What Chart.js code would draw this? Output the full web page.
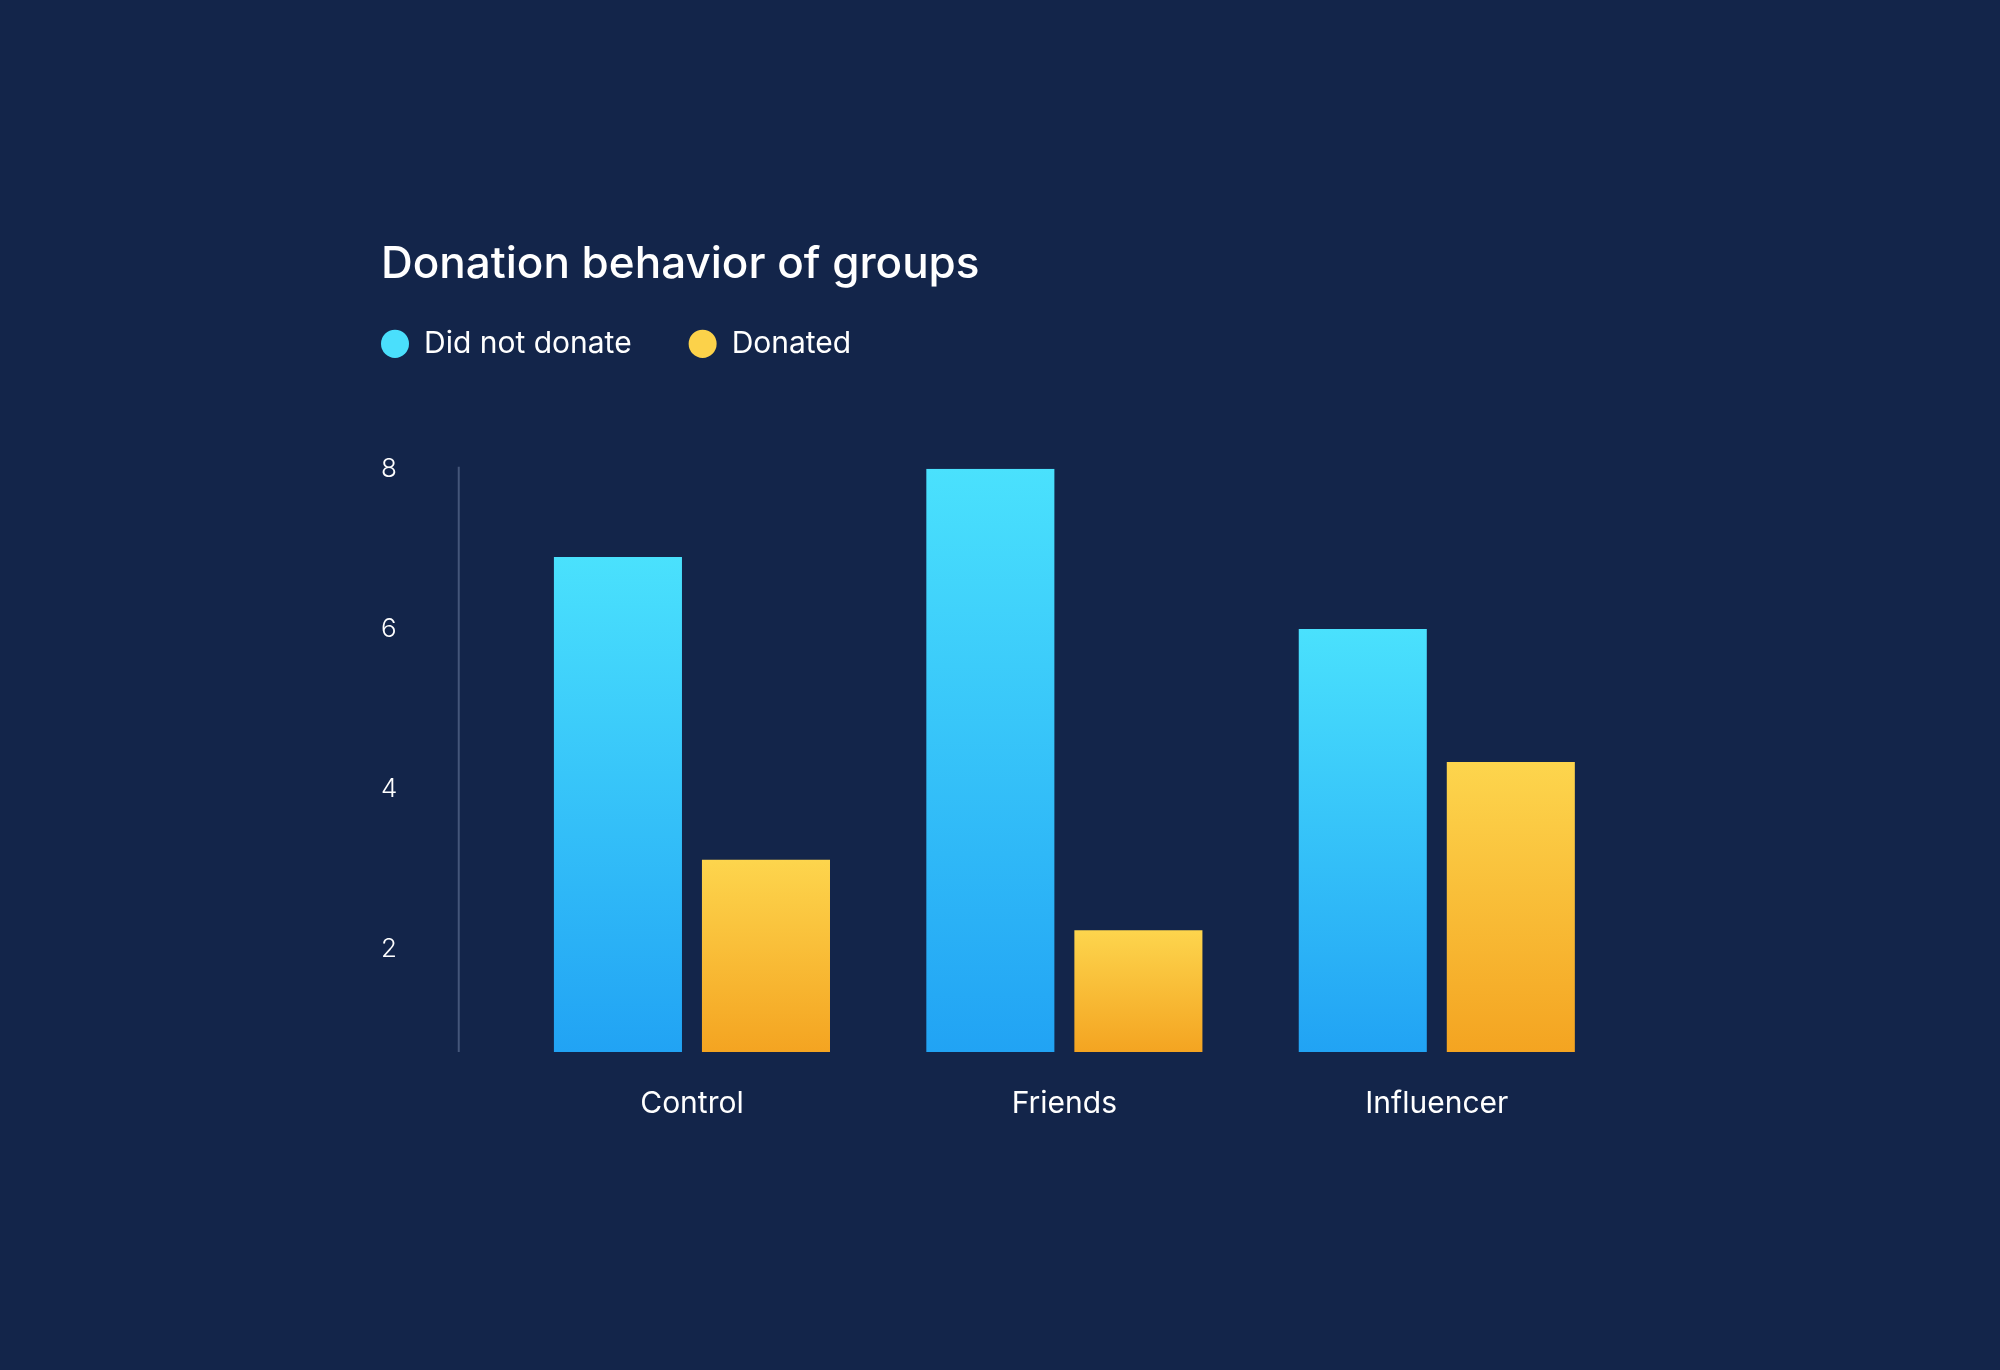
<!DOCTYPE html>
<html>
<head>
<meta charset="utf-8">
<style>
  html, body { margin: 0; padding: 0; background: #13254a; }
  #wrap { width: 2000px; height: 1370px; position: relative; }
</style>
<script src="https://cdn.jsdelivr.net/npm/chart.js@4/dist/chart.umd.min.js"></script>
</head>
<body>
<div id="wrap"><canvas id="c" width="2000" height="1370"></canvas></div>
<script>
const titleText = 'Donation behavior of groups';
const categories = ['Control', 'Friends', 'Influencer'];
const seriesNames = ['Did not donate', 'Donated'];
const didNotDonate = [6.9, 8.0, 6.0];
const donated = [3.12, 2.24, 4.34];
const yTickValues = [2, 4, 6, 8];
const yMin = 0.72;
const yMax = 8;

const BG = '#13254a';
const blueTop = '#4ae1fd', blueBottom = '#21a3f4';
const yellowTop = '#fdd54d', yellowBottom = '#f4a421';
const legendColors = ['#4adffc', '#fcd24a'];
const FONT = 'Inter, Lato, sans-serif';
const LEGEND_EXTRA = 43;

function gradient(top, bottom) {
  return (ctx) => {
    const chart = ctx.chart;
    const area = chart.chartArea;
    if (!area || ctx.raw === undefined) return top;
    const y0 = chart.scales.y.getPixelForValue(ctx.raw);
    const y1 = chart.scales.y.getPixelForValue(yMin);
    const g = chart.ctx.createLinearGradient(0, y0, 0, y1);
    g.addColorStop(0, top);
    g.addColorStop(1, bottom);
    return g;
  };
}

const bgPlugin = {
  id: 'bg',
  beforeDraw(chart) {
    const c = chart.ctx;
    c.save();
    c.fillStyle = BG;
    c.fillRect(0, 0, chart.width, chart.height);
    c.restore();
  }
};

const legendSpacingPlugin = {
  id: 'legendSpacing',
  beforeLayout(chart) {
    const lg = chart.legend;
    if (lg && !lg.__patched) {
      const orig = lg.fit.bind(lg);
      lg.fit = function () { orig(); this.height += LEGEND_EXTRA; };
      lg.__patched = true;
    }
  },
  afterLayout(chart) {
    const lg = chart.legend;
    if (!lg) return;
    const p = lg.options.labels.padding;
    lg.left -= p;
    lg.top -= p;
  }
};

const axisLinePlugin = {
  id: 'axisLine',
  afterDraw(chart) {
    const { ctx, chartArea, scales } = chart;
    const x = chartArea.left - 47;
    ctx.save();
    ctx.strokeStyle = '#44567a';
    ctx.lineWidth = 2;
    ctx.beginPath();
    ctx.moveTo(x, scales.y.getPixelForValue(yMax) - 2);
    ctx.lineTo(x, chartArea.bottom);
    ctx.stroke();
    ctx.restore();
  }
};

new Chart(document.getElementById('c'), {
  type: 'bar',
  data: {
    labels: categories,
    datasets: [
      { label: seriesNames[0], data: didNotDonate, backgroundColor: gradient(blueTop, blueBottom), borderWidth: 0 },
      { label: seriesNames[1], data: donated, backgroundColor: gradient(yellowTop, yellowBottom), borderWidth: 0 }
    ]
  },
  options: {
    responsive: false,
    animation: false,
    devicePixelRatio: 1,
    datasets: { bar: { barPercentage: 0.865, categoryPercentage: 0.795 } },
    layout: { padding: { left: 381, right: 377, top: 238, bottom: 214 } },
    plugins: {
      title: {
        display: true,
        text: titleText,
        align: 'start',
        color: '#ffffff',
        font: { family: FONT, size: 44, weight: '500' },
        padding: { top: 0, bottom: 38 }
      },
      legend: {
        display: true,
        align: 'start',
        labels: {
          color: '#ffffff',
          font: { family: FONT, size: 30, weight: '400' },
          usePointStyle: true,
          pointStyle: 'circle',
          boxHeight: 20,
          pointStyleWidth: 28,
          padding: 57,
          generateLabels(chart) {
            const items = Chart.defaults.plugins.legend.labels.generateLabels(chart);
            items.forEach((it, i) => { it.fillStyle = legendColors[i]; it.strokeStyle = legendColors[i]; it.lineWidth = 0; });
            return items;
          }
        }
      },
      tooltip: { enabled: false }
    },
    scales: {
      x: {
        grid: { display: false, drawTicks: false },
        border: { display: false },
        ticks: { color: '#ffffff', font: { family: FONT, size: 30, weight: '400' }, padding: 34 }
      },
      y: {
        min: yMin,
        max: yMax,
        afterBuildTicks(scale) { scale.ticks = yTickValues.map(v => ({ value: v })); },
        afterFit(scale) { scale.width = 124.75; },
        grid: { display: false, drawTicks: false },
        border: { display: false },
        ticks: { color: '#ffffff', font: { family: FONT, size: 26, weight: '300' }, crossAlign: 'far', padding: 0 }
      }
    }
  },
  plugins: [bgPlugin, legendSpacingPlugin, axisLinePlugin]
});
</script>
</body>
</html>
